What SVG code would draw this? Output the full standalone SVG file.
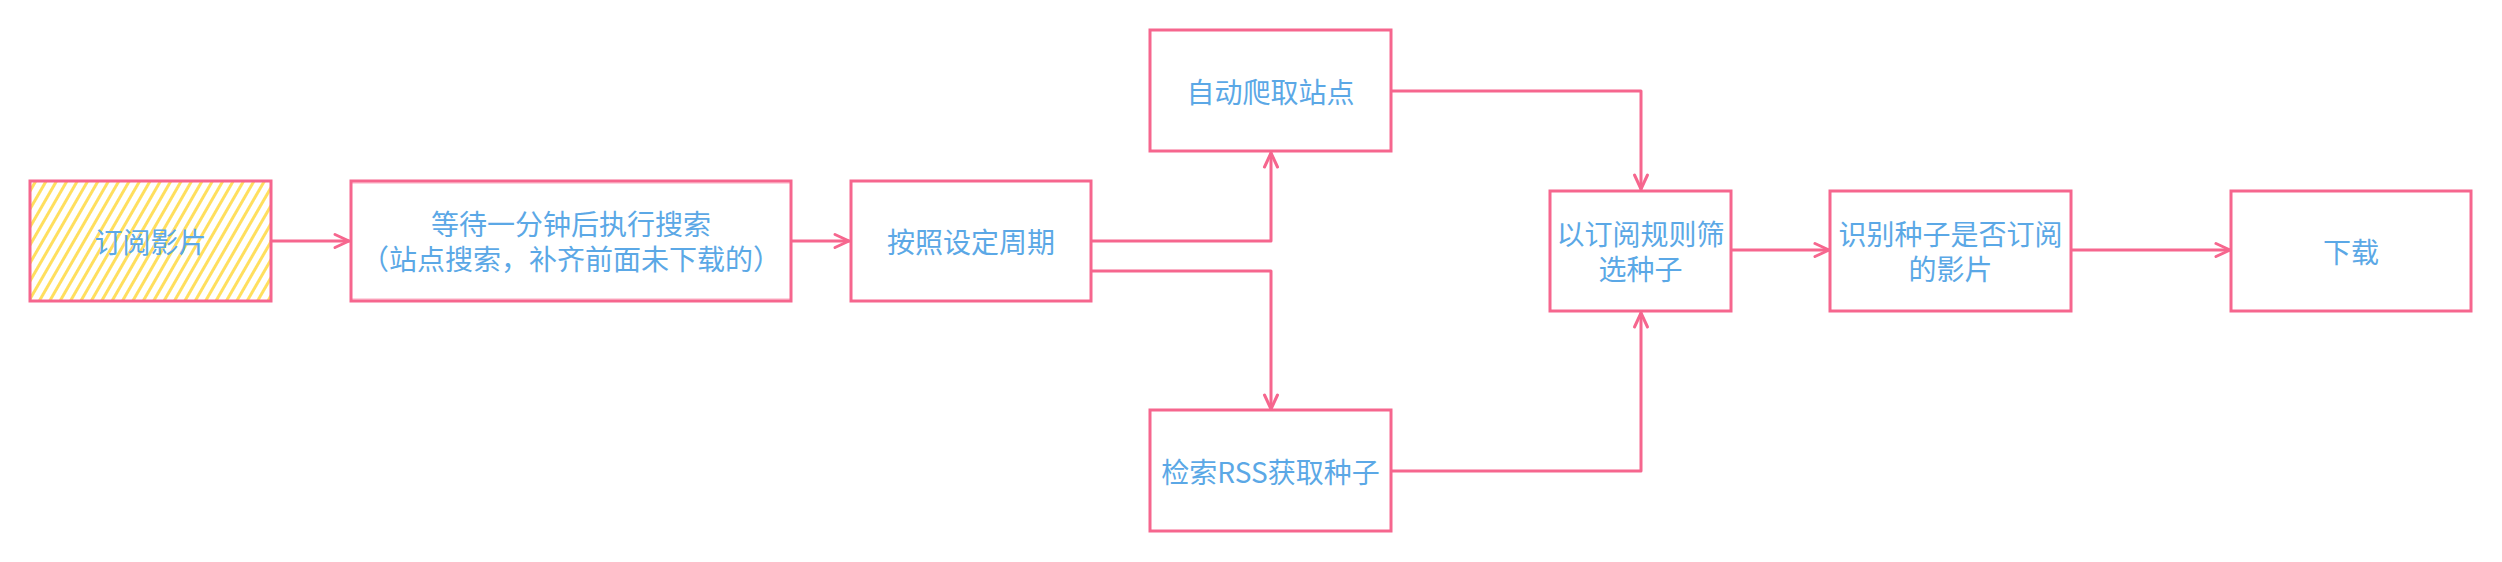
<svg xmlns="http://www.w3.org/2000/svg" width="2502" height="562" viewBox="0 0 2502 562">
<style>
.box{fill:#ffffff;stroke:#f6668e;stroke-width:3}
.box2{fill:none;stroke:#f6668e;stroke-width:1.2;opacity:0.55}
.t{font-family:"Noto Sans CJK SC","Noto Sans",sans-serif;font-size:28px;fill:#5ba8e6;text-anchor:middle;dominant-baseline:central}
.c{fill:none;stroke:#f6668e;stroke-width:3;stroke-linejoin:round;stroke-linecap:round}
</style>
<defs>
<pattern id="hatch" patternUnits="userSpaceOnUse" width="9" height="9" patternTransform="rotate(30)">
<line x1="4.5" y1="-1" x2="4.5" y2="10" stroke="#ffdf5e" stroke-width="3"/>
</pattern>
<marker id="arr" viewBox="-16 -9 18 18" refX="0" refY="0" markerWidth="18" markerHeight="18" markerUnits="userSpaceOnUse" orient="auto">
<path d="M-14,-6.5 L0,0 L-14,6.5" fill="none" stroke="#f6668e" stroke-width="3" stroke-linecap="round" stroke-linejoin="round"/>
</marker>
</defs>
<rect width="2502" height="562" fill="#ffffff"/>
<g id="connectors">
<path class="c" d="M271 241 H349" marker-end="url(#arr)"/>
<path class="c" d="M791 241 H849" marker-end="url(#arr)"/>
<path class="c" d="M1091 241 H1271 V153" marker-end="url(#arr)"/>
<path class="c" d="M1091 271 H1271 V409" marker-end="url(#arr)"/>
<path class="c" d="M1391 91 H1641 V189" marker-end="url(#arr)"/>
<path class="c" d="M1391 471 H1641 V313" marker-end="url(#arr)"/>
<path class="c" d="M1731 250 H1829" marker-end="url(#arr)"/>
<path class="c" d="M2071 250 H2230" marker-end="url(#arr)"/>
</g>
<g id="n1">
<rect x="30" y="181" width="241" height="120" fill="url(#hatch)" stroke="#f6668e" stroke-width="3"/>
<text class="t" x="150.5" y="241">订阅影片</text>
</g>
<g id="n2">
<rect class="box" x="351" y="181" width="440" height="120"/>
<path class="box2" d="M352 183 H790 M352 299 H790"/>
<text class="t" x="571" y="223">等待一分钟后执行搜索</text>
<text class="t" x="571" y="258">（站点搜索，补齐前面未下载的）</text>
</g>
<g id="n3">
<rect class="box" x="851" y="181" width="240" height="120"/>
<text class="t" x="971" y="241">按照设定周期</text>
</g>
<g id="n4">
<rect class="box" x="1150" y="30" width="241" height="121"/>
<text class="t" x="1270.5" y="90.5">自动爬取站点</text>
</g>
<g id="n5">
<rect class="box" x="1150" y="410" width="241" height="121"/>
<text class="t" x="1270.5" y="470.5">检索RSS获取种子</text>
</g>
<g id="n6">
<rect class="box" x="1550" y="191" width="181" height="120"/>
<text class="t" x="1640.5" y="233">以订阅规则筛</text>
<text class="t" x="1640.5" y="268">选种子</text>
</g>
<g id="n7">
<rect class="box" x="1830" y="191" width="241" height="120"/>
<text class="t" x="1950.5" y="233">识别种子是否订阅</text>
<text class="t" x="1950.5" y="268">的影片</text>
</g>
<g id="n8">
<rect class="box" x="2231" y="191" width="240" height="120"/>
<text class="t" x="2351" y="251">下载</text>
</g>
</svg>
